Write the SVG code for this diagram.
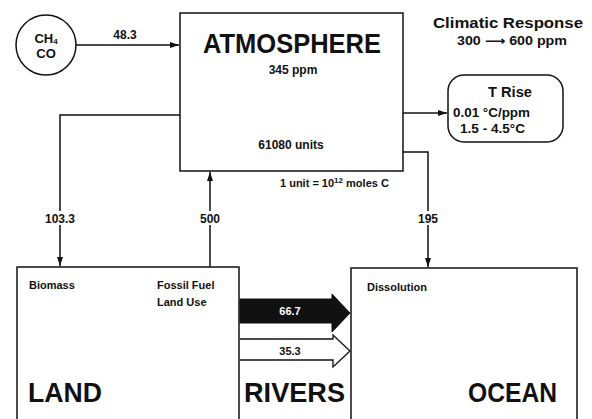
<svg xmlns="http://www.w3.org/2000/svg" width="592" height="419" viewBox="0 0 592 419">
<defs>
<marker id="ah" markerWidth="10" markerHeight="8" refX="9" refY="4" orient="auto" markerUnits="userSpaceOnUse">
<path d="M0,1 L9,4 L0,7 Z" fill="#111"/>
</marker>
<style>
text{font-family:"Liberation Sans","DejaVu Sans",Arial,sans-serif;font-weight:bold;fill:#111}
.box{fill:#fff;stroke:#111;stroke-width:1.5}
.edge{fill:none;stroke:#111;stroke-width:1.5}
.s{font-size:11px}
.m{font-size:12px}
.big{font-size:28px}
.c{text-anchor:middle}
</style>
</defs>
<rect width="592" height="419" fill="#fff"/>
<g id="atmosphere">
<rect class="box" x="180" y="13" width="223" height="158"/>
<text class="big c" x="292" y="53" textLength="178" lengthAdjust="spacingAndGlyphs">ATMOSPHERE</text>
<text class="m c" x="293" y="74">345 ppm</text>
<text class="m c" x="291" y="149">61080 units</text>
<text class="s" x="280" y="187">1 unit = 10<tspan font-size="8" dy="-4">12</tspan><tspan dy="4"> moles C</tspan></text>
</g>
<g id="ch4co">
<circle cx="46" cy="45" r="30" fill="#fff" stroke="#111" stroke-width="1.5"/>
<text class="c" x="46" y="43" font-size="13">CH<tspan font-size="8" dy="1">4</tspan></text>
<text class="c" x="46" y="58" font-size="13">CO</text>
</g>
<g id="climatic">
<text x="433" y="28" font-size="14" textLength="150" lengthAdjust="spacingAndGlyphs">Climatic Response</text>
<text class="m" x="457" y="45" textLength="110" lengthAdjust="spacingAndGlyphs">300 ⟶ 600 ppm</text>
</g>
<g id="trise">
<rect class="box" x="448" y="75" width="115" height="67" rx="16"/>
<text x="488" y="97" font-size="14" textLength="44" lengthAdjust="spacingAndGlyphs">T Rise</text>
<text class="m" x="453" y="117" textLength="77" lengthAdjust="spacingAndGlyphs">0.01 °C/ppm</text>
<text class="m" x="460" y="133" textLength="65" lengthAdjust="spacingAndGlyphs">1.5 - 4.5°C</text>
</g>
<g id="land">
<path class="edge" d="M17,419 V267 H239 V419"/>
<text class="s" x="29" y="289">Biomass</text>
<text class="s" x="157" y="289">Fossil Fuel</text>
<text class="s" x="157" y="306">Land Use</text>
<text class="big" x="28" y="402" textLength="74" lengthAdjust="spacingAndGlyphs">LAND</text>
</g>
<g id="rivers">
<text class="big" x="244" y="402" textLength="101" lengthAdjust="spacingAndGlyphs">RIVERS</text>
</g>
<g id="ocean">
<path class="edge" d="M351,419 V268 H577 V419"/>
<text class="s" x="367" y="291">Dissolution</text>
<text class="big" x="468" y="402" textLength="89" lengthAdjust="spacingAndGlyphs">OCEAN</text>
</g>
<g id="connectors">
<line class="edge" x1="76" y1="45" x2="179" y2="45" marker-end="url(#ah)"/>
<text class="m c" x="125" y="39">48.3</text>
<line class="edge" x1="403" y1="113" x2="447" y2="113" marker-end="url(#ah)"/>
<polyline class="edge" points="403,152 428,152 428,267" marker-end="url(#ah)"/>
<rect x="416" y="211" width="24" height="14" fill="#fff"/>
<text class="m c" x="428" y="223">195</text>
<polyline class="edge" points="180,115 60,115 60,266" marker-end="url(#ah)"/>
<rect x="44" y="211" width="32" height="14" fill="#fff"/>
<text class="m c" x="60" y="223">103.3</text>
<line class="edge" x1="210" y1="267" x2="210" y2="172" marker-end="url(#ah)"/>
<rect x="198" y="211" width="24" height="14" fill="#fff"/>
<text class="m c" x="210" y="223">500</text>
<path d="M240,299 H332 V294 L350,313 L332,332 V323 H240 Z" fill="#111" stroke="#111" stroke-width="1"/>
<text class="s c" x="290" y="315" style="fill:#fff">66.7</text>
<path d="M240,339 H333 V335 L350,351 L333,367 V360 H240" fill="#fff" stroke="#111" stroke-width="1.3"/>
<text class="s c" x="290" y="355">35.3</text>
</g>
</svg>
